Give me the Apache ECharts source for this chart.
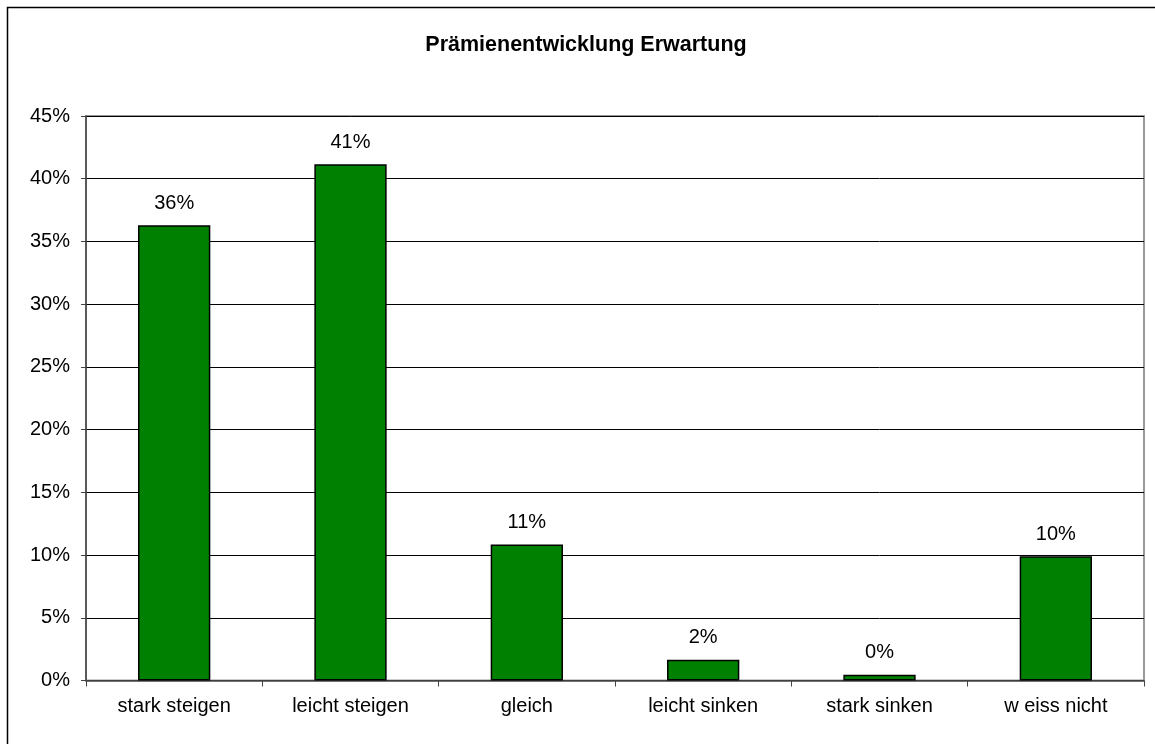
<!DOCTYPE html>
<html>
<head>
<meta charset="utf-8">
<script src="https://cdn.jsdelivr.net/npm/echarts@6/dist/echarts.min.js"></script>
<style>
html,body{margin:0;padding:0;background:#fff;}
#chart{width:1155px;height:744px;}
</style>
</head>
<body>
<div id="chart"></div>
<script>
var titleText = 'Prämienentwicklung Erwartung';
var categories = ['stark steigen', 'leicht steigen', 'gleich', 'leicht sinken', 'stark sinken', 'w eiss nicht'];
var values = [36.3, 41.15, 10.85, 1.66, 0.46, 9.9];
var yTicks = [0, 5, 10, 15, 20, 25, 30, 35, 40, 45];

var chart = echarts.init(document.getElementById('chart'));
var font = 'Liberation Sans, Arial, sans-serif';
chart.setOption({
  animation: false,
  backgroundColor: '#fff',
  title: {
    text: titleText,
    left: 581,
    top: 29,
    textAlign: 'center',
    textStyle: { fontFamily: font, fontSize: 21.5, fontWeight: 'bold', color: '#000' }
  },
  graphic: [{
    type: 'rect',
    shape: { x: 7.5, y: 7.5, width: 1200, height: 800 },
    style: { fill: 'none', stroke: '#000', lineWidth: 1.5 },
    silent: true
  }],
  grid: {
    left: 86, right: 11, top: 116, bottom: 63.5,
    show: true, borderColor: '#999', borderWidth: 2, backgroundColor: '#fff'
  },
  xAxis: {
    type: 'category',
    data: categories,
    axisLine: { lineStyle: { color: '#555', width: 1.5 } },
    axisTick: { show: true, length: 6, lineStyle: { color: '#444' } },
    axisLabel: { fontFamily: font, fontSize: 20, color: '#000', margin: 16, interval: 0 }
  },
  yAxis: {
    type: 'value',
    min: yTicks[0],
    max: yTicks[yTicks.length - 1],
    interval: 5,
    axisLine: { show: true, lineStyle: { color: '#444', width: 1.5 } },
    axisTick: { show: true, length: 5, lineStyle: { color: '#444' } },
    axisLabel: { fontFamily: font, fontSize: 20, color: '#000', margin: 16, formatter: '{value}%' },
    splitLine: { show: true, lineStyle: { color: '#000', width: 1 } }
  },
  series: [{
    type: 'bar',
    data: values,
    barWidth: '41%',
    itemStyle: { color: '#008000', borderColor: '#000', borderWidth: 1.5 },
    label: {
      show: true, position: 'top', distance: 12,
      fontFamily: font, fontSize: 20, color: '#000',
      formatter: function (p) { return Math.round(p.value) + '%'; }
    }
  }]
});
</script>
</body>
</html>
